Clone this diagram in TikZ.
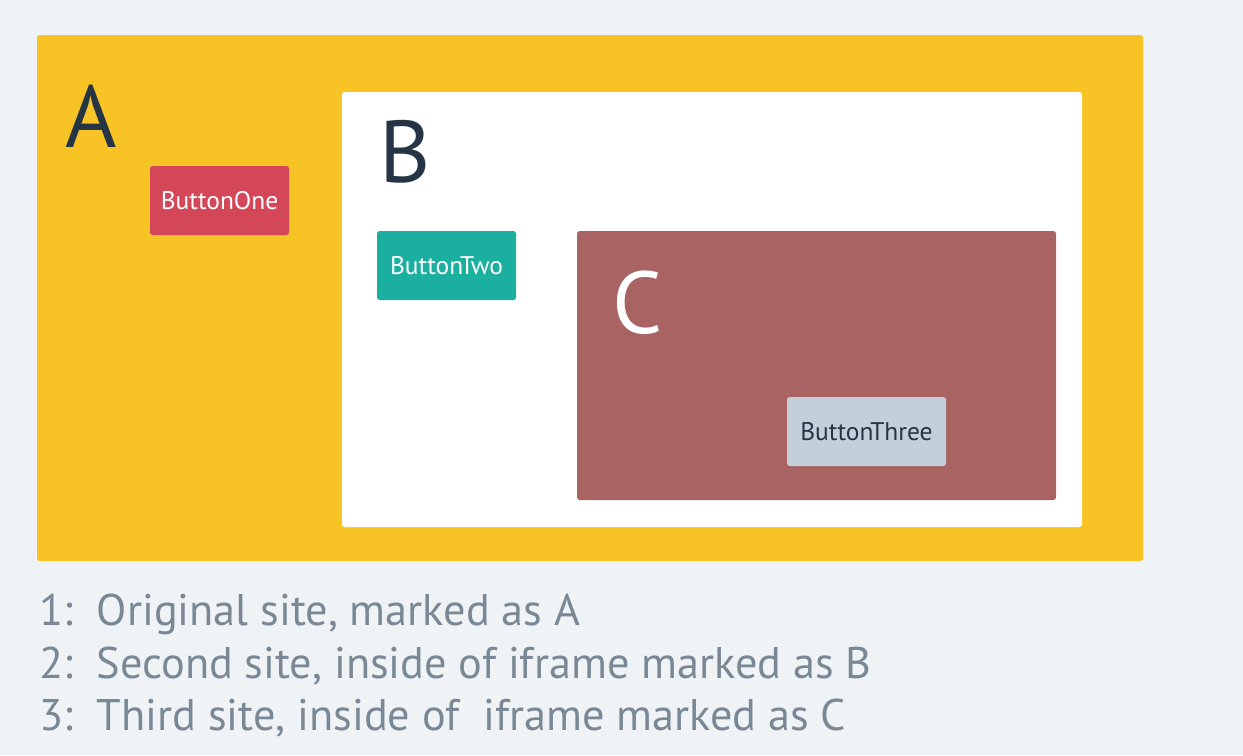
\documentclass[tikz,border=0pt]{standalone}
\usepackage{fontspec}
\setmainfont{PT Sans}
\definecolor{pagebg}{HTML}{EFF3F6}
\definecolor{siteA}{HTML}{F7C325}
\definecolor{siteC}{HTML}{AA6363}
\definecolor{btnOne}{HTML}{D44759}
\definecolor{btnTwo}{HTML}{1AAF9F}
\definecolor{btnThree}{HTML}{C3CFD9}
\definecolor{ink}{HTML}{263545}
\definecolor{note}{HTML}{7A8896}
\tikzset{
  frame/.style={rounded corners=1.5pt},
  button/.style={rounded corners=1.5pt, minimum width=139*0.02cm, minimum height=69*0.02cm,
    inner sep=0pt, font=\fontsize{14.5}{16}\selectfont},
  bigletter/.style={anchor=base west, inner sep=0pt, font=\fontsize{50}{56}\selectfont},
  notetext/.style={anchor=base west, inner sep=0pt, text=note, font=\fontsize{25.2}{28}\selectfont}
}
\begin{document}
\begin{tikzpicture}[x=0.02cm, y=-0.02cm]
\useasboundingbox (0,0) rectangle (1243,755);
\fill[pagebg] (0,0) rectangle (1243,755);

% the three sites
\fill[siteA, frame] (37,35) rectangle (1143,561);
\fill[white, frame] (342,92) rectangle (1082,527);
\fill[siteC, frame] (577,231) rectangle (1056,500);

\node[bigletter, text=ink] (lblA) at (65,147) {A};
\node[bigletter, text=ink] (lblB) at (379,182) {B};
\node[bigletter, text=white] (lblC) at (612,333) {C};

% buttons
\node[button, fill=btnOne, text=white] (one) at (219.5,200.5) {ButtonOne};
\node[button, fill=btnTwo, text=white] (two) at (446.5,265.5) {ButtonTwo};
\node[button, fill=btnThree, text=ink, minimum width=159*0.02cm] (three) at (866.5,431.5) {ButtonThree};

% notes
\node[notetext] (note1) at (39,625) {1:\ \ Original site, marked as A};
\node[notetext] (note2) at (39,678) {2:\ \ Second site, inside of iframe marked as B};
\node[notetext] (note3) at (39,730) {3:\ \ Third site, inside of\ \ iframe marked as C};
\end{tikzpicture}
\end{document}
